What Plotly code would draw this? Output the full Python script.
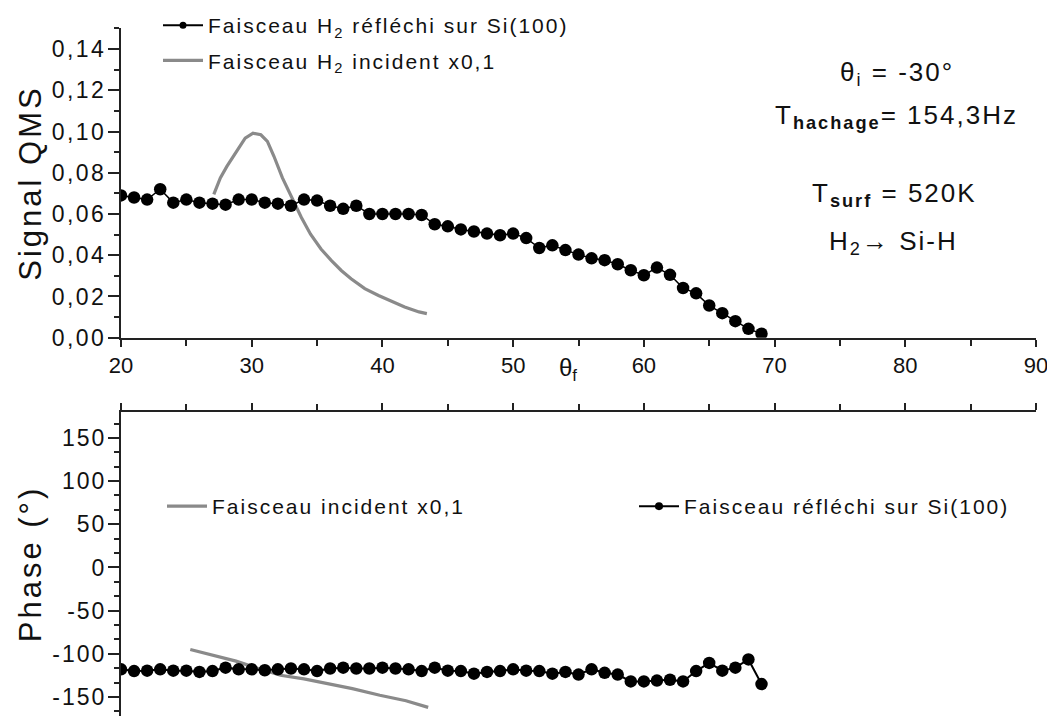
import plotly.graph_objects as go

# ---------------- data ----------------
theta_refl = [20, 21, 22, 23, 24, 25, 26, 27, 28, 29,
              30, 31, 32, 33, 34, 35, 36, 37, 38, 39,
              40, 41, 42, 43, 44, 45, 46, 47, 48, 49,
              50, 51, 52, 53, 54, 55, 56, 57, 58, 59,
              60, 61, 62, 63, 64, 65, 66, 67, 68, 69]
signal_refl = [0.069, 0.068, 0.067, 0.072, 0.0655, 0.067, 0.0655, 0.065, 0.0645, 0.067,
               0.067, 0.0655, 0.065, 0.064, 0.067, 0.0665, 0.064, 0.0625, 0.064, 0.060,
               0.060, 0.060, 0.060, 0.0595, 0.055, 0.054, 0.0525, 0.0515, 0.0505, 0.0497,
               0.0505, 0.0483, 0.0435, 0.0448, 0.0425, 0.0403, 0.0385, 0.0376, 0.0356, 0.0327,
               0.0303, 0.034, 0.0305, 0.0241, 0.0215, 0.0156, 0.0119, 0.008, 0.0043, 0.0019]
phase_refl = [-118, -120, -119.5, -118, -119.5, -119.5, -121, -120, -116, -118,
              -118, -119, -118, -117, -118, -120, -117, -116, -117, -117,
              -116, -117, -118, -120, -116, -119.5, -120, -123, -121, -120,
              -118, -119.5, -120, -123, -121, -124, -118, -122, -124, -132,
              -132, -131, -130, -132, -120, -110.5, -119.5, -116, -106.5, -135]

theta_inc_sig = [27.1, 27.6, 28.1, 28.9, 29.5, 30.1, 30.7, 31.2, 31.7, 32.35,
                 33.0, 33.8, 34.5, 35.3, 36.1, 36.85, 37.6, 38.65, 39.7, 40.7,
                 41.7, 42.8, 43.4]
signal_inc = [0.0695, 0.0775, 0.0831, 0.0912, 0.0968, 0.0992, 0.0984, 0.0952, 0.088, 0.0775,
              0.0687, 0.0583, 0.0502, 0.043, 0.0374, 0.0326, 0.0286, 0.0238, 0.0205, 0.0178,
              0.0149, 0.0125, 0.0117]

theta_inc_ph = [25.3, 26.8, 28.8, 30.5, 32.2, 34.0, 35.6, 37.7, 39.8, 41.8, 43.5]
phase_inc = [-95, -101, -108.5, -117, -124.8, -129, -133.7, -140.3, -148, -154.3, -162]

x_tickvals = [20, 30, 40, 50, 60, 70, 80, 90]
x_ticktext = ["20", "30", "40", "50", "60", "70", "80", "90"]
sig_tickvals = [0.0, 0.02, 0.04, 0.06, 0.08, 0.10, 0.12, 0.14]
sig_ticktext = ["0,00", "0,02", "0,04", "0,06", "0,08", "0,10", "0,12", "0,14"]
ph_tickvals = [-150, -100, -50, 0, 50, 100, 150]
ph_ticktext = ["-150", "-100", "-50", "0", "50", "100", "150"]

# ---------------- styling ----------------
W, H = 1047, 716
L, R = 121, 11
FONT = "Liberation Sans, Arial, sans-serif"
INK = "#111111"
GRAY = "#8a8a8a"
AXC = "#222222"


def ls(t, sp=2):
    return f'<span style="letter-spacing:{sp}px">{t}</span>'


def px_x(p):
    return (p - L) / (W - L - R)


def px_y(p):
    return (H - p) / H


fig = go.Figure()

# top panel
fig.add_trace(go.Scatter(x=theta_inc_sig, y=signal_inc, mode="lines",
                         line=dict(color=GRAY, width=3.2), showlegend=False,
                         xaxis="x", yaxis="y"))
fig.add_trace(go.Scatter(x=theta_refl, y=signal_refl, mode="lines+markers",
                         line=dict(color="black", width=1.5),
                         marker=dict(color="black", size=12.5), showlegend=False,
                         xaxis="x", yaxis="y"))
# bottom panel
fig.add_trace(go.Scatter(x=theta_inc_ph, y=phase_inc, mode="lines",
                         line=dict(color=GRAY, width=3.2), showlegend=False,
                         xaxis="x2", yaxis="y2"))
fig.add_trace(go.Scatter(x=theta_refl, y=phase_refl, mode="lines+markers",
                         line=dict(color="black", width=2),
                         marker=dict(color="black", size=12.5), showlegend=False,
                         xaxis="x2", yaxis="y2"))

# legend entries
fig.add_trace(go.Scatter(x=[None], y=[None], mode="lines+markers",
                         name=ls("Faisceau H<sub>2</sub> réfléchi sur Si(100)"),
                         line=dict(color="black", width=2), marker=dict(color="black", size=7),
                         legend="legend", legendgroup="a", xaxis="x", yaxis="y"))
fig.add_trace(go.Scatter(x=[None], y=[None], mode="lines",
                         name=ls("Faisceau H<sub>2</sub> incident x0,1"),
                         line=dict(color=GRAY, width=3.2),
                         legend="legend", legendgroup="b", xaxis="x", yaxis="y"))
fig.add_trace(go.Scatter(x=[None], y=[None], mode="lines",
                         name=ls("Faisceau incident x0,1"),
                         line=dict(color=GRAY, width=3.2),
                         legend="legend2", xaxis="x2", yaxis="y2"))
fig.add_trace(go.Scatter(x=[None], y=[None], mode="lines+markers",
                         name=ls("Faisceau réfléchi sur Si(100)"),
                         line=dict(color="black", width=2), marker=dict(color="black", size=8),
                         legend="legend3", xaxis="x2", yaxis="y2"))

tickfont = dict(family=FONT, size=23, color=INK)
legfont = dict(family=FONT, size=21, color=INK)

fig.update_layout(
    width=W, height=H,
    margin=dict(l=L, r=R, t=0, b=0, autoexpand=False),
    paper_bgcolor="white", plot_bgcolor="white",
    font=dict(family=FONT, color=INK),
    xaxis=dict(domain=[0, 1], range=[20, 90], anchor="y", automargin=False,
               tickmode="array", tickvals=x_tickvals, ticktext=x_ticktext,
               ticks="outside", ticklen=7, tickwidth=1.5, tickcolor=AXC,
               minor=dict(tickmode="linear", tick0=25, dtick=10, ticks="outside", ticklen=6,
                          tickwidth=1.5, tickcolor=AXC),
               showline=True, linewidth=2, linecolor=AXC, showgrid=False, zeroline=False,
               tickfont=dict(family=FONT, size=22, color=INK),
               ticklabelstandoff=0, ticklabeloverflow="allow"),
    yaxis=dict(domain=[px_y(337.7), px_y(28.4)], range=[0, 0.15], anchor="x", automargin=False,
               tickmode="array", tickvals=sig_tickvals,
               ticktext=[ls(t, 2.5) for t in sig_ticktext],
               ticks="outside", ticklen=11, tickwidth=1.5, tickcolor=AXC,
               minor=dict(tickmode="linear", tick0=0.01, dtick=0.02, ticks="outside", ticklen=5,
                          tickwidth=1.5, tickcolor=AXC),
               showline=True, linewidth=2, linecolor=AXC, showgrid=False, zeroline=False,
               tickfont=tickfont, ticklabeloverflow="allow", ticklabelstandoff=-3,
               title=dict(text=ls("Signal QMS", 3), font=dict(family=FONT, size=31, color=INK),
                          standoff=1)),
    xaxis2=dict(domain=[0, 1], range=[20, 90], anchor="y2", side="top", automargin=False,
                tickmode="array", tickvals=x_tickvals, showticklabels=False,
                ticks="outside", ticklen=7, tickwidth=1.5, tickcolor=AXC,
                minor=dict(tickmode="linear", tick0=25, dtick=10, ticks="outside", ticklen=6,
                           tickwidth=1.5, tickcolor=AXC),
                showline=True, linewidth=2, linecolor=AXC, showgrid=False, zeroline=False),
    yaxis2=dict(domain=[0, px_y(412)], range=[-172, 180], anchor="x2", automargin=False,
                tickmode="array", tickvals=ph_tickvals, ticktext=[ls(t, 2) for t in ph_ticktext],
                ticks="outside", ticklen=11, tickwidth=1.5, tickcolor=AXC,
                minor=dict(tickmode="linear", tick0=-150, dtick=50 / 3, ticks="outside", ticklen=5,
                           tickwidth=1.5, tickcolor=AXC),
                showline=True, linewidth=2, linecolor=AXC, showgrid=False, zeroline=False,
                tickfont=tickfont, ticklabeloverflow="allow", ticklabelstandoff=-3,
                title=dict(text=ls("Phase (°)", 3), font=dict(family=FONT, size=31, color=INK),
                           standoff=2)),
    legend=dict(x=px_x(158), y=px_y(5), xanchor="left", yanchor="top",
                bgcolor="rgba(0,0,0,0)", font=legfont, tracegroupgap=5, itemwidth=40,
                traceorder="grouped"),
    legend2=dict(x=px_x(162), y=px_y(486), xanchor="left", yanchor="top",
                 bgcolor="rgba(0,0,0,0)", font=legfont, itemwidth=40),
    legend3=dict(x=px_x(634), y=px_y(486), xanchor="left", yanchor="top",
                 bgcolor="rgba(0,0,0,0)", font=legfont, itemwidth=40),
)

ann_font = dict(family=FONT, size=26, color=INK)
annotations = [
    dict(text=ls("θ<sub>i</sub> = -30°", 2), x=px_x(897), y=px_y(73)),
    dict(text=ls("T<sub><b>hachage</b></sub>= 154,3Hz", 2), x=px_x(896), y=px_y(116)),
    dict(text=ls("T<sub><b>surf</b></sub> = 520K", 2), x=px_x(894), y=px_y(195)),
    dict(text=ls("H<sub>2</sub>→ Si-H", 2), x=px_x(893), y=px_y(242)),
]
for a in annotations:
    fig.add_annotation(xref="paper", yref="paper", showarrow=False,
                       xanchor="center", yanchor="middle", font=ann_font, **a)

fig.add_annotation(xref="paper", yref="paper", showarrow=False, xanchor="left", yanchor="middle",
                   x=px_x(557), y=px_y(369), text="θ<sub>f</sub>",
                   font=dict(family=FONT, size=24, color=INK))

fig.write_html("out.html", config={"displayModeBar": False},
               post_script="document.body.style.margin='0';")
